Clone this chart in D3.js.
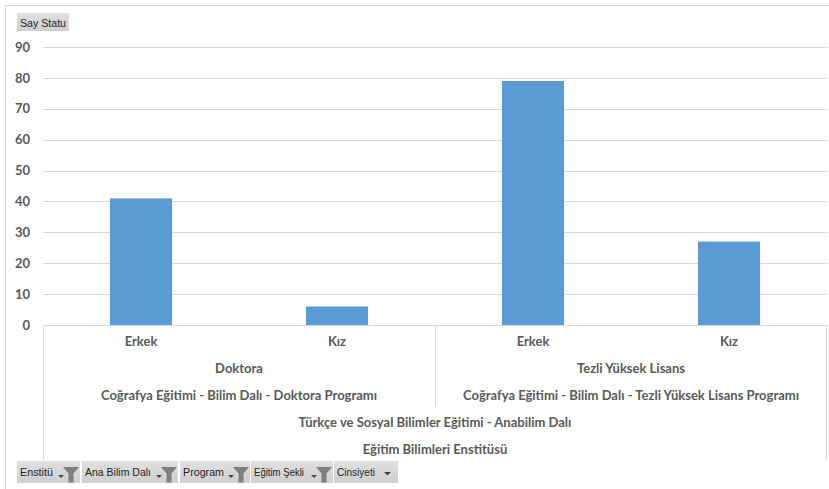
<!DOCTYPE html>
<html><head><meta charset="utf-8">
<script src="https://cdn.jsdelivr.net/npm/d3@7"></script>
<style>
html,body{margin:0;padding:0;background:#fff;}
svg{display:block;}
</style></head>
<body>
<svg id="chart" width="829" height="489"></svg>
<script>
// ---- data ----
const genders = ["Erkek", "Kız", "Erkek", "Kız"];
const values = [41, 6, 79, 27];
const programs = ["Doktora", "Tezli Yüksek Lisans"];
const programNames = ["Coğrafya Eğitimi - Bilim Dalı - Doktora Programı", "Coğrafya Eğitimi - Bilim Dalı - Tezli Yüksek Lisans Programı"];
const anaBilimDali = ["Türkçe ve Sosyal Bilimler Eğitimi - Anabilim Dalı"];
const enstitu = ["Eğitim Bilimleri Enstitüsü"];
const yTicks = [0, 10, 20, 30, 40, 50, 60, 70, 80, 90];
const valueField = "Say Statu";
const filterButtons = ["Enstitü", "Ana Bilim Dalı", "Program", "Eğitim Şekli", "Cinsiyeti"];

// ---- layout ----
const svg = d3.select("#chart");
const plotL = 43, plotR = 827, plotT = 47, plotB = 325;
const txt = "#595959", grid = "#d9d9d9", barColor = "#5b9bd5";
const labelFont = "Lato, 'Open Sans', sans-serif";

// outer chart border
svg.append("path").attr("d", "M5.5,489 V5.5 H829").attr("fill", "none").attr("stroke", "#d9d9d9");

const x = d3.scaleBand().domain(d3.range(values.length)).range([plotL, plotR]).padding(0);
const y = d3.scaleLinear().domain([0, 90]).range([plotB, plotT]);

// gridlines
svg.append("g").selectAll("line").data(yTicks.filter(d => d > 0)).join("line")
  .attr("x1", plotL).attr("x2", plotR)
  .attr("y1", d => Math.round(y(d)) + 0.5).attr("y2", d => Math.round(y(d)) + 0.5)
  .attr("stroke", grid).attr("stroke-width", 1);

// y axis labels
const yAxis = d3.axisLeft(y).tickValues(yTicks).tickSize(0).tickPadding(0);
const ya = svg.append("g").attr("transform", `translate(30,0)`).call(yAxis);
ya.select(".domain").remove();
ya.selectAll("text").attr("fill", txt).attr("font-family", labelFont)
  .attr("font-weight", "bold").attr("font-size", "13px");

// bars
const bw = x.bandwidth() * 0.317;
svg.append("g").selectAll("rect").data(values).join("rect")
  .attr("x", (d, i) => x(i) + (x.bandwidth() - bw) / 2)
  .attr("width", bw)
  .attr("y", d => y(d))
  .attr("height", d => y(0) - y(d))
  .attr("fill", barColor);

// category axis lines
const g = svg.append("g").attr("stroke", grid).attr("fill", "none");
g.append("line").attr("x1", plotL).attr("x2", plotR).attr("y1", plotB + 0.5).attr("y2", plotB + 0.5);
g.append("line").attr("x1", plotL + 0.5).attr("x2", plotL + 0.5).attr("y1", plotB).attr("y2", 460);
g.append("line").attr("x1", plotR - 0.5).attr("x2", plotR - 0.5).attr("y1", plotB).attr("y2", 460);
const mid = x(2);
g.append("line").attr("x1", Math.round(mid) + 0.5).attr("x2", Math.round(mid) + 0.5).attr("y1", plotB).attr("y2", 406);

function label(text, cx, cy) {
  svg.append("text").attr("x", cx).attr("y", cy).attr("text-anchor", "middle")
    .attr("dominant-baseline", "middle")
    .attr("fill", txt).attr("font-family", labelFont).attr("font-weight", "bold")
    .attr("font-size", "13px").text(text);
}
genders.forEach((gname, i) => label(gname, x(i) + x.bandwidth() / 2, 343));
programs.forEach((p, i) => label(p, (x(i * 2) + x(i * 2 + 1) + x.bandwidth()) / 2, 370));
programNames.forEach((p, i) => label(p, (x(i * 2) + x(i * 2 + 1) + x.bandwidth()) / 2, 397));
label(anaBilimDali[0], (plotL + plotR) / 2, 424);
label(enstitu[0], (plotL + plotR) / 2, 451);

// field button (top)
const btnGrad = svg.append("defs").append("linearGradient").attr("id", "bg").attr("x1", 0).attr("x2", 0).attr("y1", 0).attr("y2", 1);
btnGrad.append("stop").attr("offset", "0").attr("stop-color", "#e0e0e0");
btnGrad.append("stop").attr("offset", "1").attr("stop-color", "#cfcfcf");
svg.append("rect").attr("x", 17).attr("y", 13).attr("width", 52).attr("height", 18).attr("fill", "url(#bg)");
svg.append("text").attr("x", 20).attr("y", 26.5).attr("fill", "#222")
  .attr("font-family", "'Liberation Sans', Arial, sans-serif").attr("font-size", "10.5px")
  .attr("textLength", 46).attr("lengthAdjust", "spacingAndGlyphs").text(valueField);

// filter buttons (bottom)
const btnX = [17, 82, 180, 251, 334];
const btnW = [63, 96, 70, 82, 64];
const btnTextW = [33, 66, 41, 50, 38];
const fb = svg.append("g");
filterButtons.forEach((t, i) => {
  const bx = btnX[i], w = btnW[i];
  fb.append("rect").attr("x", bx).attr("y", 461).attr("width", w).attr("height", 22).attr("fill", "url(#bg)");
  fb.append("text").attr("x", bx + 3).attr("y", 476).attr("fill", "#222")
    .attr("font-family", "'Liberation Sans', Arial, sans-serif").attr("font-size", "10.5px")
    .attr("textLength", btnTextW[i]).attr("lengthAdjust", "spacingAndGlyphs").text(t);
  if (i < filterButtons.length - 1) {
    const fx = bx + w - 17;
    const ax = fx - 5;
    fb.append("path").attr("d", `M${ax},475 h6 l-3,3 z`).attr("fill", "#444");
    fb.append("path").attr("d", `M${fx},467 h16 l-5.5,6.5 v9 h-5 v-9 z`).attr("fill", "#7f7f7f");
  } else {
    const ax = bx + w - 14;
    fb.append("path").attr("d", `M${ax},472 h7 l-3.5,3.5 z`).attr("fill", "#444");
  }
});
</script>
</body></html>
